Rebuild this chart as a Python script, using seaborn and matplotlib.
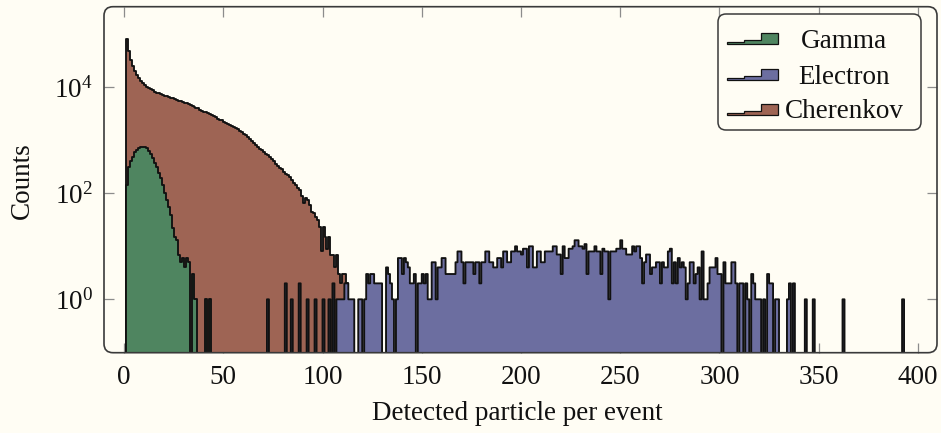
import numpy as np
import pandas as pd
import matplotlib
matplotlib.use("Agg")
import matplotlib.pyplot as plt
import seaborn as sns
from matplotlib.patches import FancyBboxPatch, Polygon
from matplotlib.ticker import NullLocator

# ---------------------------------------------------------------------------
# Histogram contents: counts per unit-wide bin, first bin starts at *_start
# ---------------------------------------------------------------------------
gamma_start = 1
gamma_counts = [
    145, 316, 398, 490, 589, 661, 708, 741, 741, 741,
    708, 631, 562, 457, 380, 309, 240, 191, 145, 100,
    74, 56, 39, 22, 15, 13, 7, 5, 6, 4,
    6, 5, 0, 3, 1, 1, 0, 0, 0, 0,
    1, 0, 1,
]

cherenkov_start = 1
cherenkov_counts = [
    83000, 48000, 33000, 25000, 20400, 17400, 15100, 13200, 12000, 11000,
    10200, 9550, 9120, 8710, 8318, 7943, 7762, 7413, 7244, 6918,
    6761, 6607, 6310, 6166, 5888, 5754, 5623, 5495, 5370, 5129,
    5012, 4786, 4677, 4467, 4266, 4074, 3981, 3802, 3631, 3467,
    3388, 3236, 3090, 2951, 2818, 2692, 2570, 2455, 2399, 2239,
    2138, 2042, 1950, 1862, 1778, 1698, 1622, 1514, 1413, 1318,
    1259, 1148, 1047, 977, 891, 832, 759, 692, 646, 603,
    562, 525, 479, 437, 398, 363, 331, 302, 282, 251,
    234, 219, 200, 178, 158, 141, 126, 115, 89, 66,
    83, 74, 60, 45, 42, 35, 32, 23, 8, 23,
    15, 9, 15, 7, 7, 4, 7, 3, 2, 3,
    3, 2,
]

electron_start = 72
electron_counts = [
    # 72 - 111
    1, 0, 0, 0, 0, 0, 0, 0, 0, 2,
    0, 0, 1, 0, 0, 0, 2, 0, 0, 0,
    1, 0, 0, 0, 1, 0, 0, 0, 1, 0,
    0, 1, 0, 2, 0, 1, 1, 1, 1, 2,
    # 112 - 151
    2, 1, 1, 1, 0, 0, 1, 1, 0, 1,
    3, 2, 3, 3, 2, 2, 2, 2, 0, 0,
    4, 3, 2, 1, 0, 1, 6, 6, 3, 6,
    5, 4, 2, 2, 3, 0, 2, 2, 3, 2,
    # 152 - 191
    3, 1, 1, 5, 5, 1, 4, 4, 6, 6,
    3, 3, 3, 3, 3, 5, 8, 8, 5, 2,
    5, 5, 5, 5, 3, 5, 5, 2, 5, 5,
    8, 8, 5, 5, 4, 4, 6, 6, 4, 8,
    # 192 - 231
    8, 5, 5, 8, 8, 10, 8, 8, 7, 9,
    9, 4, 10, 10, 4, 4, 8, 8, 5, 5,
    8, 8, 8, 8, 10, 10, 7, 7, 3, 10,
    6, 6, 9, 9, 10, 13, 13, 10, 10, 9,
    # 232 - 271
    11, 3, 8, 8, 8, 10, 8, 8, 3, 9,
    8, 8, 1, 8, 8, 8, 9, 9, 13, 9,
    9, 7, 7, 7, 10, 8, 10, 10, 6, 2,
    5, 7, 7, 3, 4, 4, 5, 5, 2, 5,
    # 272 - 311
    4, 4, 8, 9, 2, 5, 2, 6, 4, 5,
    4, 1, 2, 5, 5, 2, 3, 4, 1, 8,
    1, 1, 2, 4, 4, 4, 6, 3, 3, 0,
    5, 2, 2, 2, 5, 5, 2, 0, 2, 2,
    # 312 - 351
    0, 2, 1, 0, 3, 2, 1, 1, 1, 0,
    1, 0, 3, 2, 2, 0, 1, 1, 0, 0,
    0, 0, 1, 2, 0, 2, 0, 0, 0, 0,
    0, 1, 0, 0, 0, 1, 0, 0, 0, 0,
    # 352 - 392
    0, 0, 0, 0, 0, 0, 0, 0, 0, 0,
    1, 0, 0, 0, 0, 0, 0, 0, 0, 0,
    0, 0, 0, 0, 0, 0, 0, 0, 0, 0,
    0, 0, 0, 0, 0, 0, 0, 0, 0, 0,
    1,
]

series_names = ["Gamma", "Electron", "Cherenkov"]
x_ticks = [0, 50, 100, 150, 200, 250, 300, 350, 400]
y_ticks = [1, 100, 10000]

# ---------------------------------------------------------------------------
# Style
# ---------------------------------------------------------------------------
BG = "#FFFDF4"
COLORS = {"Gamma": "#4F8560", "Electron": "#6C6EA0", "Cherenkov": "#9E6454"}
FS = 19.5

sns.set_theme(style="ticks")
plt.rcParams["font.family"] = ["Liberation Serif", "DejaVu Serif"]
plt.rcParams["mathtext.fontset"] = "custom"
plt.rcParams["mathtext.rm"] = "Liberation Serif"
plt.rcParams["mathtext.it"] = "Liberation Serif:italic"
plt.rcParams["mathtext.bf"] = "Liberation Serif:bold"

W, H = 941, 433
fig = plt.figure(figsize=(W / 100, H / 100), dpi=100, facecolor=BG)
ax = fig.add_axes([104 / W, 80.3 / H, 833 / W, 346 / H])
ax.set_facecolor(BG)


def draw_hist(start, counts, color):
    counts = np.asarray(counts, dtype=float)
    edges = [float(e) for e in range(start, start + len(counts) + 1)]
    table = pd.DataFrame({"value": np.asarray(edges[:-1]) + 0.5,
                          "count": counts})
    sns.histplot(data=table, x="value", weights="count", bins=edges,
                 element="step", fill=True, color=color, alpha=1,
                 edgecolor="#111111", linewidth=1.35, ax=ax)


# Cherenkov underneath, photons and electrons drawn over it
draw_hist(cherenkov_start, cherenkov_counts, COLORS["Cherenkov"])
draw_hist(gamma_start, gamma_counts, COLORS["Gamma"])
draw_hist(electron_start, electron_counts, COLORS["Electron"])

ax.set_yscale("log")
ax.set_xlim(-10.1, 409.6)
ax.set_ylim(10 ** -1.007, 10 ** 5.52)
ax.set_xticks(x_ticks)
ax.set_yticks(y_ticks)
ax.yaxis.set_minor_locator(NullLocator())
ax.xaxis.set_minor_locator(NullLocator())
ax.tick_params(axis="both", direction="in", length=7.5, width=0.9,
               color="#8c8c8c", top=True, right=True, labelsize=FS,
               labelcolor="#111111")
ax.tick_params(axis="x", pad=9)
ax.tick_params(axis="y", pad=8)

for s in ax.spines.values():
    s.set_visible(False)

# rounded axis frame
r_px = 9
frame = FancyBboxPatch((0, 0), 1, 1,
                       boxstyle=f"round,pad=0,rounding_size={r_px / 833}",
                       mutation_aspect=833 / 346, transform=ax.transAxes,
                       facecolor="none", edgecolor="#3a3a3a", linewidth=1.2,
                       clip_on=False, zorder=10)
ax.add_patch(frame)

ax.set_xlabel("Detected particle per event", fontsize=FS, color="#111111")
ax.set_ylabel("Counts", fontsize=FS, color="#111111")
ax.xaxis.set_label_coords((517 - 104) / 833, (352.7 - 413) / 346)
ax.xaxis.label.set(va="center", ha="center")
ax.yaxis.set_label_coords((22 - 104) / 833, (352.7 - 181) / 346)
ax.yaxis.label.set(va="center", ha="center", rotation_mode="anchor")

# ---------------------------------------------------------------------------
# Legend with step-shaped markers (pixel layout converted to figure coords)
# ---------------------------------------------------------------------------
def fx(px):
    return px / W


def fy(py):
    return 1 - py / H


leg_box = FancyBboxPatch((fx(718), fy(130)), 203 / W, 116 / H,
                         boxstyle=f"round,pad=0,rounding_size={8 / W}",
                         mutation_aspect=W / H, transform=fig.transFigure,
                         facecolor=BG, edgecolor="#3a3a3a", linewidth=1.1,
                         zorder=20)
fig.patches.append(leg_box)

row_centers = [38, 74, 109]
for name, cy in zip(series_names, row_centers):
    x0, x1 = 727, 778
    y_bot, y_top = cy + 5.5, cy - 5.5
    h = y_bot - y_top
    third = (x1 - x0) / 3
    pts_px = [
        (x0, y_bot), (x0, y_bot - 0.12 * h),
        (x0 + third, y_bot - 0.12 * h), (x0 + third, y_bot - 0.3 * h),
        (x0 + 2 * third, y_bot - 0.3 * h), (x0 + 2 * third, y_top),
        (x1, y_top), (x1, y_bot),
    ]
    poly = Polygon([(fx(px), fy(py)) for px, py in pts_px], closed=True,
                   transform=fig.transFigure, facecolor=COLORS[name],
                   edgecolor="#111111", linewidth=0.9, zorder=21)
    fig.patches.append(poly)
    fig.text(fx(844), fy(cy), name, ha="center", va="center_baseline",
             fontsize=FS, color="#111111", zorder=22)

fig.savefig("out.png", dpi=100, facecolor=BG)
